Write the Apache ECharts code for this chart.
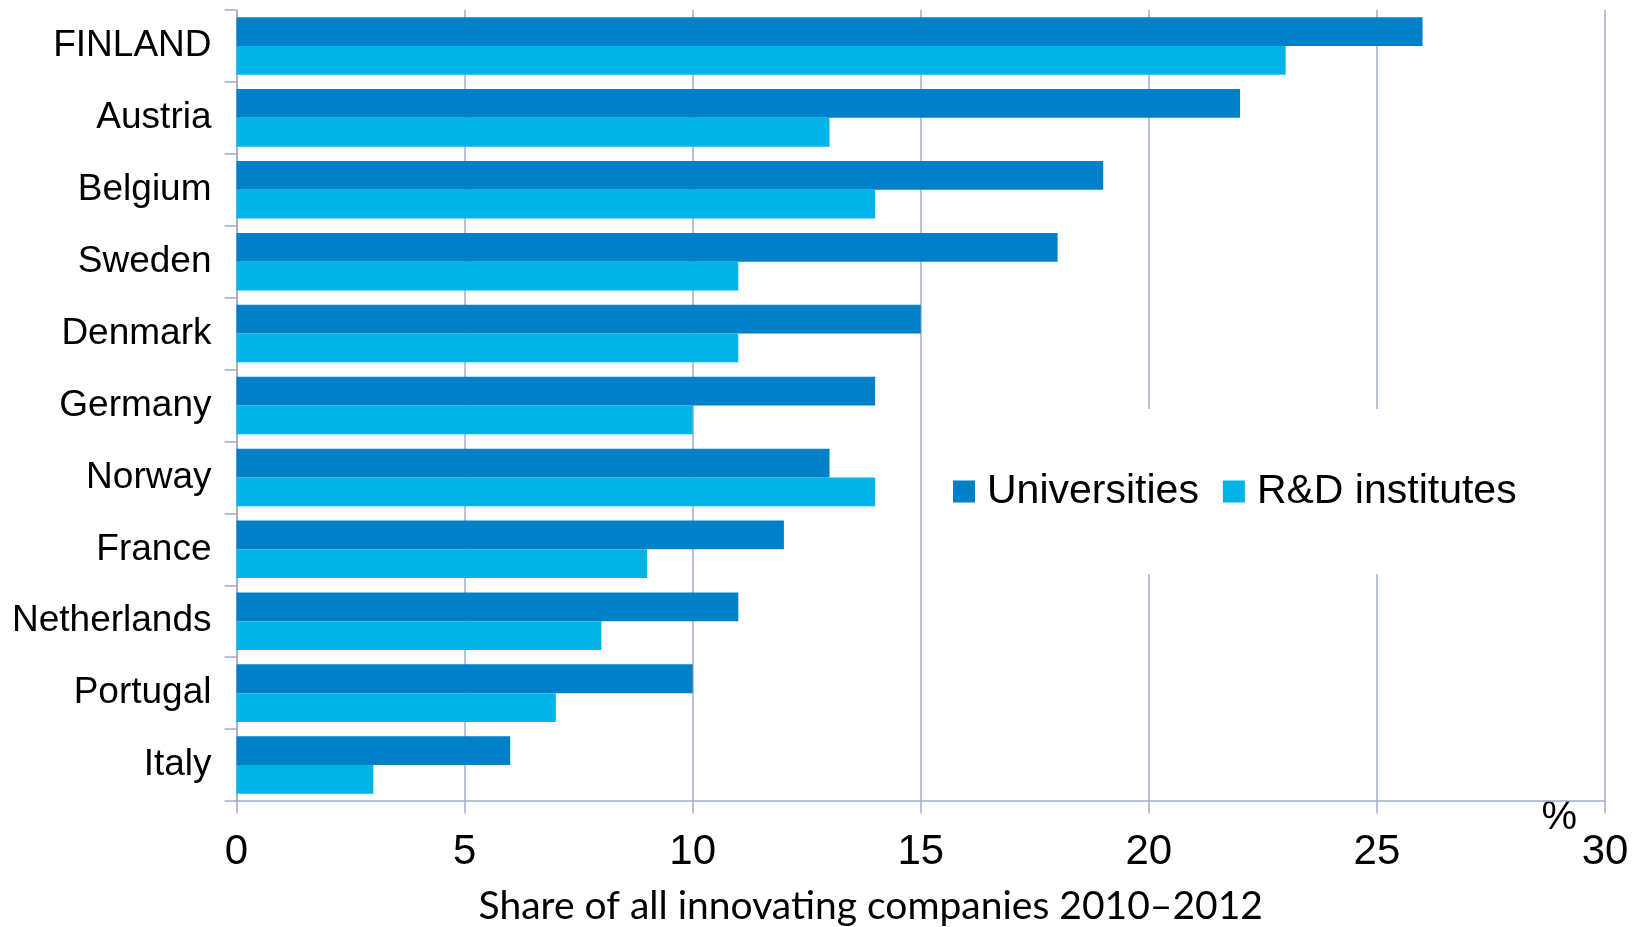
<!DOCTYPE html>
<html>
<head>
<meta charset="utf-8">
<script src="https://cdn.jsdelivr.net/npm/echarts@6/dist/echarts.min.js"></script>
<style>
html,body{margin:0;padding:0;background:#fff;}
#chart{width:1635px;height:927px;}
</style>
</head>
<body>
<div id="chart"></div>
<script>
const categories = ['FINLAND','Austria','Belgium','Sweden','Denmark','Germany','Norway','France','Netherlands','Portugal','Italy'];
const universities = [26,22,19,18,15,14,13,12,11,10,6];
const rdInstitutes = [23,13,14,11,11,10,14,9,8,7,3];
const xTicks = {min:0, max:30, interval:5};
const seriesNames = ['Universities','R&D institutes'];
const axisTitle = 'Share of all innovating companies 2010\u20132012';
const unitLabel = '%';

const lineColor = '#A3ACC9';
const chart = echarts.init(document.getElementById('chart'));
chart.setOption({
  animation:false,
  backgroundColor:'#fff',
  grid:{left:236.5, right:30, top:10, bottom:126, containLabel:false, outerBoundsMode:'none'},
  legend:{
    data:seriesNames,
    left:928, top:409,
    orient:'horizontal',
    backgroundColor:'#fff',
    padding:[62,25,62,25],
    itemWidth:22, itemHeight:22, itemGap:24,
    icon:'rect',
    textStyle:{fontFamily:'Liberation Sans', fontSize:41, color:'#000', padding:[0,0,0,7]}
  },
  xAxis:{
    type:'value', min:xTicks.min, max:xTicks.max, interval:xTicks.interval,
    axisLine:{show:true, lineStyle:{color:lineColor, width:1.5}},
    axisTick:{show:true, length:12.5, lineStyle:{color:lineColor, width:1.5}},
    splitLine:{show:true, lineStyle:{color:lineColor, width:1.5}},
    axisLabel:{fontFamily:'Liberation Sans', fontSize:42, color:'#000', margin:30},
    name:axisTitle, nameLocation:'middle', nameGap:86,
    nameTextStyle:{fontFamily:'Lato', fontSize:39, color:'#000', padding:[0,100,0,0]}
  },
  yAxis:{
    type:'category', data:categories, inverse:true,
    axisLine:{show:true, lineStyle:{color:lineColor, width:1.5}},
    axisTick:{show:true, length:12, lineStyle:{color:lineColor, width:1.5}},
    axisLabel:{fontFamily:'Liberation Sans', fontSize:37, color:'#000', margin:25},
    splitLine:{show:false}
  },
  graphic:[{type:'text', right:58, top:798, style:{text:unitLabel, fontFamily:'Liberation Sans', fontSize:40, fill:'#000'}}],
  series:[
    {name:seriesNames[0], type:'bar', data:universities, barGap:'0%', barCategoryGap:'20%',
     itemStyle:{color:'#0080C8'}},
    {name:seriesNames[1], type:'bar', data:rdInstitutes, barGap:'0%', barCategoryGap:'20%',
     itemStyle:{color:'#00B5E6'}}
  ]
});
</script>
</body>
</html>
